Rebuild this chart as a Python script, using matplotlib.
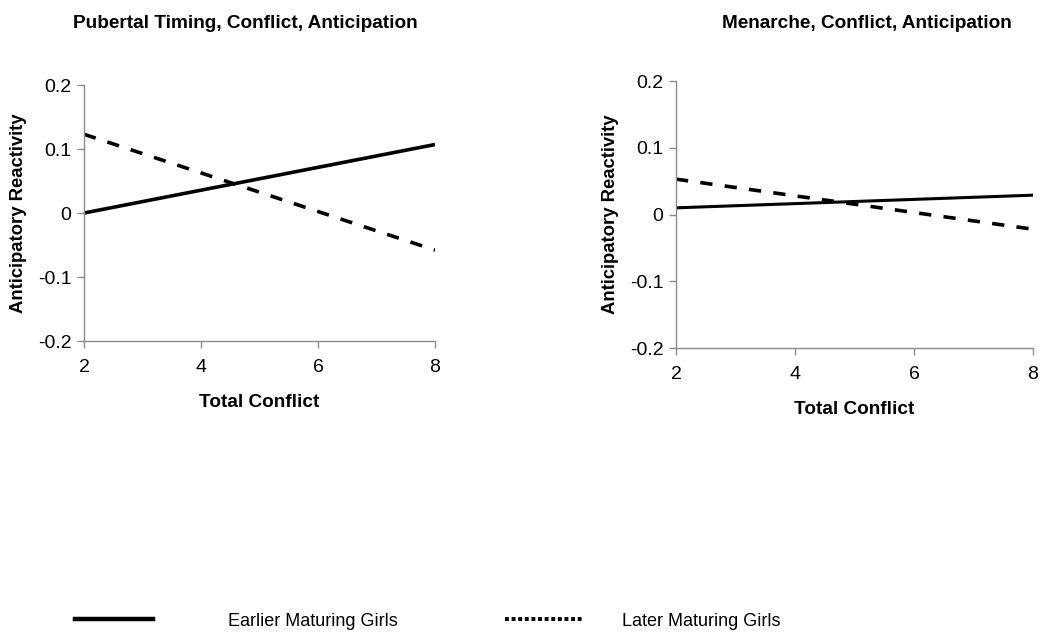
import matplotlib
matplotlib.use("Agg")
import matplotlib.pyplot as plt
from matplotlib.lines import Line2D

# Data
conflict = [2, 8]
left_earlier = [0.0, 0.107]
left_later = [0.123, -0.058]
right_earlier = [0.010, 0.029]
right_later = [0.053, -0.022]

titles = ["Pubertal Timing, Conflict, Anticipation", "Menarche, Conflict, Anticipation"]
series_labels = ["Earlier Maturing Girls", "Later Maturing Girls"]
xticks = [2, 4, 6, 8]
yticks = [-0.2, -0.1, 0, 0.1, 0.2]
ytick_labels = ["-0.2", "-0.1", "0", "0.1", "0.2"]

plt.rcParams['font.family'] = ['Liberation Sans', 'DejaVu Sans']

fig = plt.figure(figsize=(10.5, 6.42), dpi=100)
ax_left = fig.add_axes([0.080, 0.4688, 0.3343, 0.3988])
ax_right = fig.add_axes([0.6438, 0.4579, 0.3400, 0.4159])


def style_axes(ax, title_x, title):
    for side in ['top', 'right']:
        ax.spines[side].set_visible(False)
    for side in ['left', 'bottom']:
        ax.spines[side].set_color('#8c8c8c')
        ax.spines[side].set_linewidth(1.0)
    ax.set_xlim(2, 8)
    ax.set_ylim(-0.2, 0.2)
    ax.set_xticks(xticks)
    ax.set_yticks(yticks)
    ax.set_yticklabels(ytick_labels)
    ax.tick_params(direction='out', length=5, width=1, color='#8c8c8c',
                   labelsize=14, pad=4)
    ax.tick_params(axis='x', pad=8)
    ax.set_xlabel("Total Conflict", fontsize=13.7, fontweight='bold', labelpad=13)
    ax.set_ylabel("Anticipatory Reactivity", fontsize=13.3, fontweight='bold', labelpad=8)
    fig.text(title_x, 1 - 23 / 642, title, fontsize=13.7, fontweight='bold',
             ha='center', va='center')


dash = (0, (3.4, 3.4))
ax_left.plot(conflict, left_earlier, color='black', lw=2.6, solid_capstyle='butt')
ax_left.plot(conflict, left_later, color='black', lw=2.6, linestyle=dash)
ax_right.plot(conflict, right_earlier, color='black', lw=2.2, solid_capstyle='butt')
ax_right.plot(conflict, right_later, color='black', lw=2.6, linestyle=dash)

style_axes(ax_left, 245 / 1050, titles[0])
style_axes(ax_right, 867 / 1050, titles[1])

# legend entries as two separate legends (gaps differ in the reference)
legend_font = {'size': 13}
solid_handle = Line2D([], [], color='black', lw=3.2)
dotted_handle = Line2D([], [], color='black', lw=2.8, linestyle=(0, (1, 0.7)))
fig.legend([solid_handle], [series_labels[0]], loc='center left',
           bbox_to_anchor=(75 / 1050, 1 - 621 / 642), frameon=False,
           borderpad=0, borderaxespad=0, handlelength=4.3, handletextpad=4.2,
           prop=legend_font)
fig.legend([dotted_handle], [series_labels[1]], loc='center left',
           bbox_to_anchor=(505 / 1050, 1 - 621 / 642), frameon=False,
           borderpad=0, borderaxespad=0, handlelength=4.4, handletextpad=2.1,
           prop=legend_font)

fig.savefig("out.png", dpi=100)
